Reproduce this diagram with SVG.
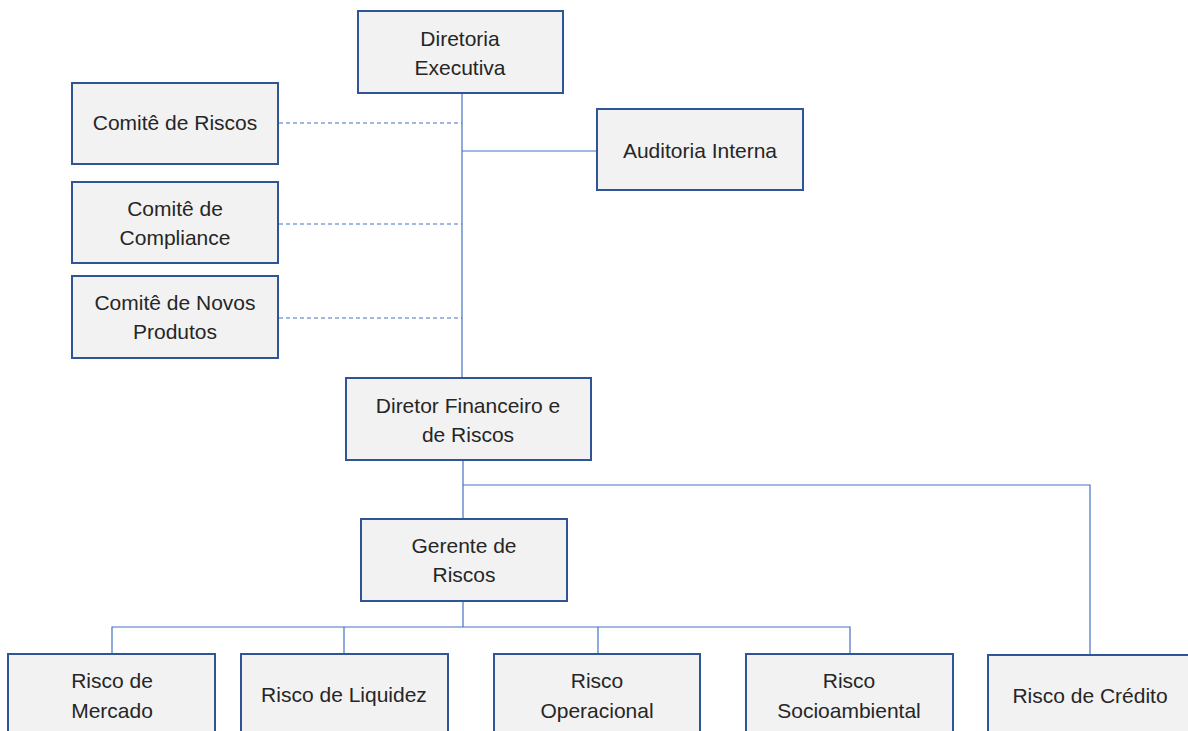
<svg xmlns="http://www.w3.org/2000/svg" width="1188" height="731" viewBox="0 0 1188 731">
<style>
.box{fill:#f2f2f2;stroke:#2f5597;stroke-width:2}
.t{font-family:"Liberation Sans",Arial,sans-serif;font-size:21px;fill:#262626;text-anchor:middle}
.c{fill:none;stroke:#4472c4;stroke-width:1.2}
.d{fill:none;stroke:#4472c4;stroke-width:1.2;stroke-dasharray:4 3}
</style>
<rect width="1188" height="731" fill="#fff"/>
<g id="connectors">
<path class="c" d="M462 93V378"/>
<path class="c" d="M462 151H597"/>
<path class="d" d="M279 123H462"/>
<path class="d" d="M279 224H462"/>
<path class="d" d="M279 318H462"/>
<path class="c" d="M463 460V519"/>
<path class="c" d="M463 485H1090V655"/>
<path class="c" d="M463 601V627"/>
<path class="c" d="M112 654V627H850V654"/>
<path class="c" d="M344 627V654"/>
<path class="c" d="M598 627V654"/>
</g>
<g id="diretoria-executiva"><rect class="box" x="358" y="11" width="205" height="82"/><text class="t" x="460" y="46">Diretoria</text><text class="t" x="460" y="75">Executiva</text></g>
<g id="comite-riscos"><rect class="box" x="72" y="83" width="206" height="81"/><text class="t" x="175" y="130">Comitê de Riscos</text></g>
<g id="comite-compliance"><rect class="box" x="72" y="182" width="206" height="81"/><text class="t" x="175" y="216">Comitê de</text><text class="t" x="175" y="245">Compliance</text></g>
<g id="comite-novos-produtos"><rect class="box" x="72" y="276" width="206" height="82"/><text class="t" x="175" y="310">Comitê de Novos</text><text class="t" x="175" y="339">Produtos</text></g>
<g id="auditoria-interna"><rect class="box" x="597" y="109" width="206" height="81"/><text class="t" x="700" y="158">Auditoria Interna</text></g>
<g id="diretor-financeiro"><rect class="box" x="346" y="378" width="245" height="82"/><text class="t" x="468" y="413">Diretor Financeiro e</text><text class="t" x="468" y="442">de Riscos</text></g>
<g id="gerente-riscos"><rect class="box" x="361" y="519" width="206" height="82"/><text class="t" x="464" y="553">Gerente de</text><text class="t" x="464" y="582">Riscos</text></g>
<g id="risco-mercado"><rect class="box" x="8" y="654" width="207" height="84"/><text class="t" x="112" y="688">Risco de</text><text class="t" x="112" y="718">Mercado</text></g>
<g id="risco-liquidez"><rect class="box" x="241" y="654" width="207" height="84"/><text class="t" x="344" y="702">Risco de Liquidez</text></g>
<g id="risco-operacional"><rect class="box" x="494" y="654" width="206" height="84"/><text class="t" x="597" y="688">Risco</text><text class="t" x="597" y="718">Operacional</text></g>
<g id="risco-socioambiental"><rect class="box" x="746" y="654" width="207" height="84"/><text class="t" x="849" y="688">Risco</text><text class="t" x="849" y="718">Socioambiental</text></g>
<g id="risco-credito"><rect class="box" x="988" y="655" width="205" height="84"/><text class="t" x="1090" y="703">Risco de Crédito</text></g>
</svg>
